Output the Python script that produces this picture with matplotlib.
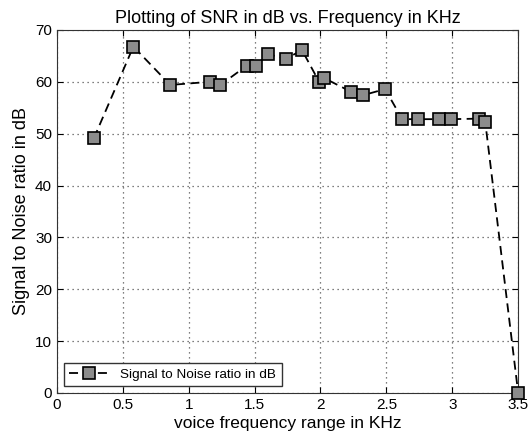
import numpy as np
import matplotlib.pyplot as plt

plt.rcParams['font.family'] = ['Liberation Sans', 'DejaVu Sans']

# -----------------------------
# data
# -----------------------------
freq_khz = [0.28, 0.58, 0.86, 1.16, 1.24, 1.44, 1.51, 1.60, 1.74, 1.86,
            1.99, 2.03, 2.23, 2.32, 2.49, 2.62, 2.74, 2.90, 2.99, 3.20,
            3.25, 3.50]
snr_db = [49.1, 66.8, 59.4, 60.0, 59.4, 63.1, 63.1, 65.3, 64.5, 66.1,
          60.0, 60.7, 58.1, 57.4, 58.6, 52.8, 52.8, 52.8, 52.8, 52.9,
          52.3, 0.0]

xticks = [0, 0.5, 1, 1.5, 2, 2.5, 3, 3.5]
xtick_labels = ['0', '0.5', '1', '1.5', '2', '2.5', '3', '3.5']
yticks = [0, 10, 20, 30, 40, 50, 60, 70]

# -----------------------------
# plot
# -----------------------------
fig = plt.figure(figsize=(5.32, 4.41), dpi=100)
ax = fig.add_axes([0.107, 0.109, 0.867, 0.823])

ax.plot(freq_khz, snr_db, linestyle=(0, (5, 3)), color='black', linewidth=1.3,
        marker='s', markersize=8, markerfacecolor='#8c8c8c',
        markeredgecolor='black', markeredgewidth=1.2,
        label='Signal to Noise ratio in dB', clip_on=False, zorder=3)

ax.set_xlim(0, 3.5)
ax.set_ylim(0, 70)
ax.set_xticks(xticks)
ax.set_xticklabels(xtick_labels)
ax.set_yticks(yticks)
ax.tick_params(direction='in', labelsize=11, length=4, top=True, right=True)
ax.grid(True, linestyle=(0, (1, 3)), color='#555555', linewidth=0.9)
for s in ax.spines.values():
    s.set_color('#333333')

ax.set_title('Plotting of SNR in dB vs. Frequency in KHz', fontsize=13, pad=5)
ax.set_xlabel('voice frequency range in KHz', fontsize=12.5, labelpad=3)
ax.set_ylabel('Signal to Noise ratio in dB', fontsize=13, labelpad=4)

leg = ax.legend(loc='lower left', fontsize=9.7, fancybox=False,
                edgecolor='#333333', framealpha=1, handlelength=3,
                borderaxespad=0.5)
leg.get_frame().set_linewidth(1.0)

plt.savefig('out.png', dpi=100)
